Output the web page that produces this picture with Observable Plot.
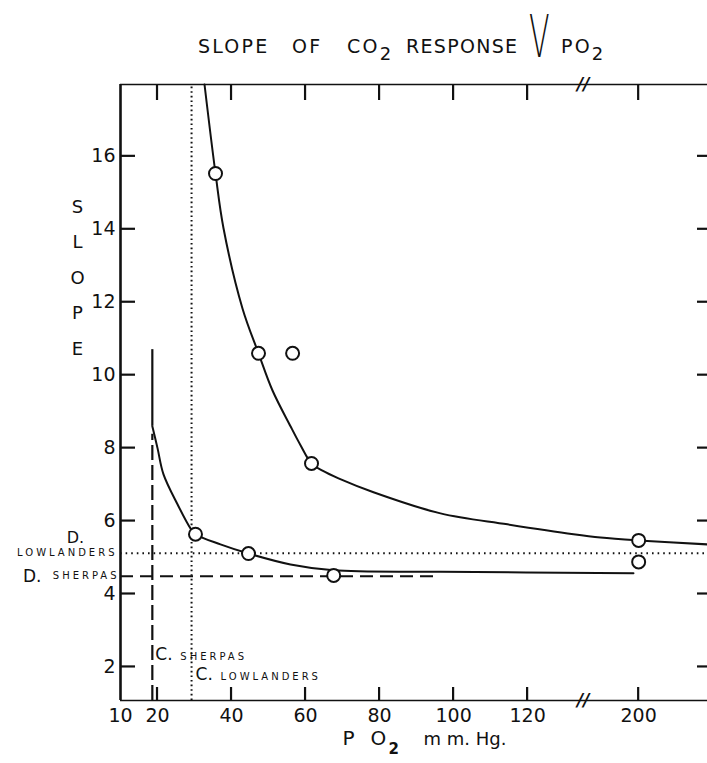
<!DOCTYPE html>
<html>
<head>
<meta charset="utf-8">
<script src="https://cdn.jsdelivr.net/npm/d3@7"></script>
<script src="https://cdn.jsdelivr.net/npm/@observablehq/plot@0.6"></script>
<style>
  body { margin: 0; background: #fff; }
  #chart { width: 707px; height: 763px; position: relative; font-family: "DejaVu Sans", sans-serif; color: #111; }
  #title { position: relative; height: 60px; width: 707px; font-size: 19px; letter-spacing: 2.2px; }
  #title span { position: absolute; top: 37px; line-height: 1; white-space: nowrap; }
  #title sub { font-size: 18px; position: relative; top: 7px; vertical-align: baseline; letter-spacing: 0; }
  #title .tight { letter-spacing: 1.3px; }
  #title .big { top: 8px; font-size: 58px; font-weight: 200; transform: scaleX(0.52); transform-origin: left top; letter-spacing: 0; }
</style>
</head>
<body>
<div id="chart">
  <div id="title">
    <span style="left:198px">SLOPE</span>
    <span style="left:292px">OF</span>
    <span style="left:347px">CO<sub>2</sub></span>
    <span class="tight" style="left:406px">RESPONSE</span>
    <span class="big" style="left:529px">V</span>
    <span style="left:561px">PO<sub>2</sub></span>
  </div>
</div>
<script>
// Axis break on P O2: values between brkLo and brkHi are cut out of the x axis
const brkLo = 135, brkHi = 185;
const pos = v => (v <= brkLo ? v : v - (brkHi - brkLo));

// Axis ticks
const xTickValues = [10, 20, 40, 60, 80, 100, 120, 200];
const xTickLabels = ["10", "20", "40", "60", "80", "100", "120", "200"];
const yTickValues = [2, 4, 6, 8, 10, 12, 14, 16];
const xMin = 10, xMax = 218.6;
const yMin = 1.08, yMax = 17.97;

// Measured points (P O2 mm Hg, slope)
const upperPO2 = [35.67, 47.29, 56.5, 61.61, 200];
const upperSlope = [15.53, 10.6, 10.6, 7.58, 5.47];
const lowerPO2 = [30.26, 44.58, 67.6, 200];
const lowerSlope = [5.64, 5.11, 4.51, 4.88];

// Hand-fitted curves
const upperFitPO2 = [32.7, 35.67, 37.83, 42.96, 47.29, 51.07, 55.93, 58.64, 61.61, 64.58, 68.9, 78.36, 96.46, 114.57, 132.4, 189.69, 200, 218.6];
const upperFitSlope = [17.97, 15.53, 14.03, 11.83, 10.6, 9.58, 8.6, 8.08, 7.58, 7.38, 7.17, 6.79, 6.21, 5.91, 5.64, 5.55, 5.47, 5.36];
const lowerFitPO2 = [18.6, 20.0, 21.62, 25.4, 28.91, 30.26, 37.0, 44.58, 55.93, 67.55, 96.46, 198.6];
const lowerFitSlope = [8.6, 8.0, 7.28, 6.46, 5.8, 5.64, 5.36, 5.11, 4.81, 4.65, 4.61, 4.57];
const lowerRiseTop = 10.7;

// Reference levels for Sherpas and lowlanders
const cSherpas = 18.6, cLowlanders = 29.2;
const cSherpasTop = 8.38;
const dLowlanders = 5.12, dSherpas = 4.49;
const dSherpasEnd = 96;

const zip = (xs, ys) => xs.map((x, i) => ({x, y: ys[i]}));
const upperPts = zip(upperPO2, upperSlope);
const lowerPts = zip(lowerPO2, lowerSlope);
const upperFit = zip(upperFitPO2, upperFitSlope);
const lowerFit = zip(lowerFitPO2, lowerFitSlope);

const xTickPos = xTickValues.map(pos);
const labelAt = new Map(xTickPos.map((p, i) => [p, xTickLabels[i]]));
const X = d => pos(d.x);

const W = 707, H = 703, mT = 24, mB = 63, mL = 120, mR = 0;
const x0 = pos(xMin), xEnd = pos(xMax);

const plot = Plot.plot({
  width: W,
  height: H,
  marginTop: mT,
  marginBottom: mB,
  marginLeft: mL,
  marginRight: mR,
  x: {type: "linear", domain: [x0, xEnd], axis: null},
  y: {type: "linear", domain: [yMin, yMax], axis: null},
  style: {fontFamily: "DejaVu Sans, sans-serif", fontSize: "19px", color: "#111", background: "#fff", overflow: "visible"},
  marks: [
    // frame: left axis, top and bottom lines
    Plot.ruleX([x0], {stroke: "#111", strokeWidth: 2.6}),
    Plot.ruleY([yMin, yMax], {stroke: "#111", strokeWidth: 1.6}),

    // tick labels
    Plot.axisY(yTickValues, {anchor: "left", tickSize: 0, tickPadding: 5, label: null}),
    Plot.axisX(xTickPos, {anchor: "bottom", tickSize: 0, tickPadding: 8, tickFormat: d => labelAt.get(d), label: null}),

    // break marks
    Plot.text([yMin, yMax], {x: () => pos(brkLo), y: d => d, text: () => "//", fontSize: 17, fontWeight: "bold", fontStyle: "italic"}),

    // reference lines
    Plot.ruleX([cLowlanders], {x: pos, y1: yMin, y2: yMax, stroke: "#111", strokeWidth: 2, strokeDasharray: "1.6,3"}),
    Plot.ruleX([cSherpas], {x: pos, y1: yMin, y2: cSherpasTop, stroke: "#111", strokeWidth: 2.2, strokeDasharray: "15,5"}),
    Plot.ruleY([dLowlanders], {x1: x0, x2: xEnd, stroke: "#111", strokeWidth: 2, strokeDasharray: "1.6,4"}),
    Plot.ruleY([dSherpas], {x1: x0, x2: pos(dSherpasEnd), stroke: "#111", strokeWidth: 2, strokeDasharray: "13,7"}),

    // fitted curves
    Plot.ruleX([cSherpas], {x: pos, y1: lowerFitSlope[0], y2: lowerRiseTop, stroke: "#111", strokeWidth: 2.2}),
    Plot.line(upperFit, {x: X, y: "y", curve: "catmull-rom", stroke: "#111", strokeWidth: 2}),
    Plot.line(lowerFit, {x: X, y: "y", curve: "catmull-rom", stroke: "#111", strokeWidth: 2}),

    // measured points
    Plot.dot(upperPts, {x: X, y: "y", r: 6.5, fill: "#fff", stroke: "#111", strokeWidth: 2}),
    Plot.dot(lowerPts, {x: X, y: "y", r: 6.5, fill: "#fff", stroke: "#111", strokeWidth: 2}),

    // y axis title, one letter per line
    Plot.text(["S\nL\nO\nP\nE"], {frameAnchor: "left", dx: -43, dy: -120, lineHeight: 1.97, fontSize: 18, textAnchor: "middle"}),

    // x axis title
    Plot.text(["P"], {frameAnchor: "bottom-left", dx: 222, dy: 44, fontSize: 20, textAnchor: "start"}),
    Plot.text(["O"], {frameAnchor: "bottom-left", dx: 250, dy: 44, fontSize: 20, textAnchor: "start"}),
    Plot.text(["2"], {frameAnchor: "bottom-left", dx: 268, dy: 53, fontSize: 15, fontWeight: "bold", textAnchor: "start"}),
    Plot.text(["m m. Hg."], {frameAnchor: "bottom-left", dx: 303, dy: 44, fontSize: 18, textAnchor: "start"}),

    // labels for the reference lines
    Plot.text(["D."], {x: () => x0, y: () => dLowlanders, dx: -45, dy: -15, fontSize: 16, textAnchor: "middle"}),
    Plot.text(["LOWLANDERS"], {x: () => x0, y: () => dLowlanders, dx: -3, fontSize: 10, textAnchor: "end"}),
    Plot.text(["D."], {x: () => x0, y: () => dSherpas, dx: -79, fontSize: 17, textAnchor: "end"}),
    Plot.text(["SHERPAS"], {x: () => x0, y: () => dSherpas, dx: -1, fontSize: 10, textAnchor: "end"}),
    Plot.text(["C."], {x: () => pos(cSherpas), frameAnchor: "bottom", dx: 3, dy: -41, fontSize: 17, textAnchor: "start"}),
    Plot.text(["SHERPAS"], {x: () => pos(cSherpas), frameAnchor: "bottom", dx: 28, dy: -41, fontSize: 10, textAnchor: "start"}),
    Plot.text(["C."], {x: () => pos(cLowlanders), frameAnchor: "bottom", dx: 4, dy: -21, fontSize: 17, textAnchor: "start"}),
    Plot.text(["LOWLANDERS"], {x: () => pos(cLowlanders), frameAnchor: "bottom", dx: 29, dy: -21, fontSize: 10, textAnchor: "start"})
  ]
});

// the group names under the reference lines are set in spaced-out small capitals
d3.select(plot).selectAll("text")
  .filter(function () { return this.textContent === "LOWLANDERS" || this.textContent === "SHERPAS"; })
  .attr("letter-spacing", 3);

// short inward ticks on all four sides, placed with the plot's own x and y scales
const sx = plot.scale("x"), sy = plot.scale("y");
const frameLeft = sx.apply(x0), frameRight = sx.apply(xEnd);
const frameTop = sy.apply(yMax), frameBottom = sy.apply(yMin);
const tickGroup = d3.select(plot).append("g")
  .attr("aria-label", "inward ticks")
  .attr("stroke", "#111")
  .attr("stroke-width", 2.2);
tickGroup.append("g").selectAll("line").data(yTickValues).join("line")
  .attr("x1", frameLeft).attr("x2", frameLeft + 15)
  .attr("y1", d => sy.apply(d)).attr("y2", d => sy.apply(d));
tickGroup.append("g").selectAll("line").data(yTickValues).join("line")
  .attr("x1", frameRight - 10).attr("x2", frameRight)
  .attr("y1", d => sy.apply(d)).attr("y2", d => sy.apply(d));
tickGroup.append("g").selectAll("line").data(xTickPos.slice(1)).join("line")
  .attr("x1", d => sx.apply(d)).attr("x2", d => sx.apply(d))
  .attr("y1", frameTop).attr("y2", frameTop + 16);
tickGroup.append("g").selectAll("line").data(xTickPos.slice(1)).join("line")
  .attr("x1", d => sx.apply(d)).attr("x2", d => sx.apply(d))
  .attr("y1", frameBottom - 13).attr("y2", frameBottom);

document.getElementById("chart").appendChild(plot);
</script>
</body>
</html>
